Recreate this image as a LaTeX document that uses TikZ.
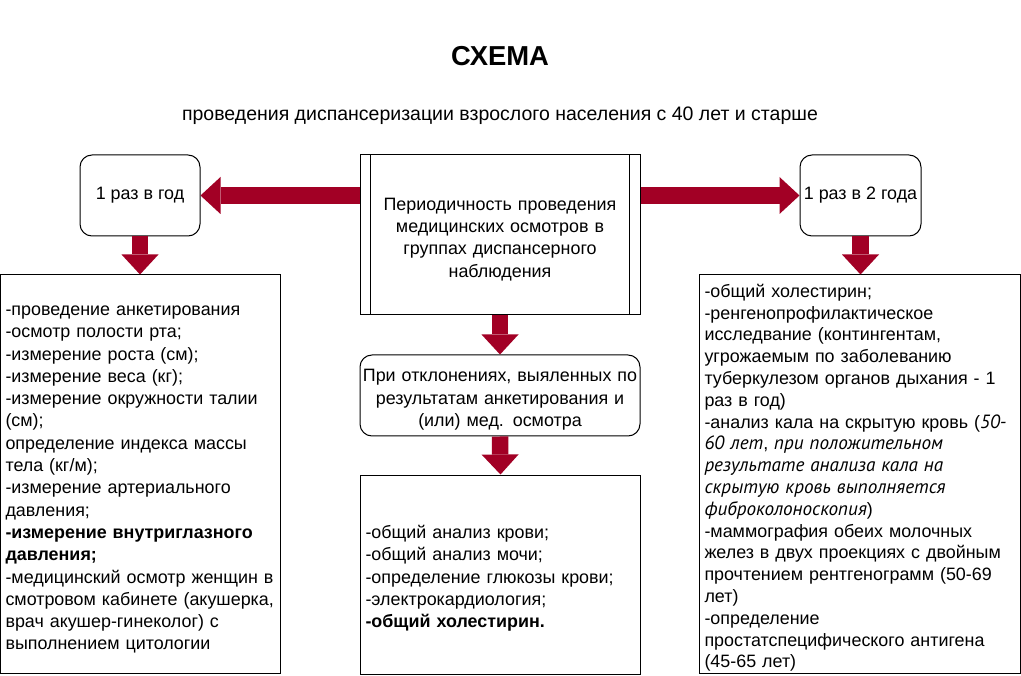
\documentclass[tikz,border=0pt]{standalone}
\usepackage{fontspec}
\setmainfont{Liberation Sans}
\newfontfamily\cursfont[Scale=1.07]{PT Sans}
\usetikzlibrary{arrows.meta}
\definecolor{arrowred}{HTML}{A20025}
\newcommand{\cit}[1]{{\cursfont\itshape #1}}
\newcommand{\tp}{\rule{0pt}{21pt}}
\tikzset{
  basefont/.style={font=\fontsize{17.9}{22.3}\selectfont},
  plainbox/.style={draw=black, line width=1pt, fill=white, basefont, inner xsep=5pt, inner ysep=0pt},
  roundbox/.style={plainbox, rounded corners=12pt},
  bigarrow/.style={draw=arrowred, line width=16.5pt,
    -{Triangle[length=20pt,width=37pt,line width=0pt,fill=arrowred]}},
}
\begin{document}
\begin{tikzpicture}[x=1pt,y=-1pt]
\useasboundingbox (0,0) rectangle (1021,676);
\fill[white] (0,0) rectangle (1021,676);

\node[font=\bfseries\fontsize{27.4}{30}\selectfont] (title) at (500,56) {СХЕМА};
\node[font=\fontsize{19.5}{23}\selectfont] (sub) at (500,116) {проведения диспансеризации взрослого населения с 40 лет и старше};

% top row
\node[roundbox, minimum width=120pt, minimum height=81pt, align=center] (Y1) at (140,195.5) {\raisebox{-2pt}{1 раз в год}};
\node[roundbox, minimum width=121pt, minimum height=81pt, inner xsep=0pt, align=center] (Y2) at (860.5,195.5) {\raisebox{-2pt}{1 раз в 2 года}};
\node[plainbox, inner xsep=0pt, text width=280pt, minimum height=160pt, align=center] (C) at (500,235)
 {\tp Периодичность проведения\\медицинских осмотров в\\группах диспансерного\\наблюдения};
\draw[line width=1pt] ([xshift=11pt]C.north west) -- ([xshift=11pt]C.south west);
\draw[line width=1pt] ([xshift=-11pt]C.north east) -- ([xshift=-11pt]C.south east);

% middle
\node[roundbox, inner xsep=0pt, text width=280pt, minimum height=81pt, align=center] (M) at (500,395.5)
 {\tp При отклонениях, выяленных по\\результатам анкетирования и\\(или) мед. осмотра};

% bottom boxes
\node[plainbox, text width=270pt, minimum height=398pt, align=left] (L) at (140.5,474)
 {\tp -проведение анкетирования\\
 -осмотр полости рта;\\
 -измерение роста (см);\\
 -измерение веса (кг);\\
 -измерение окружности талии\\
 (см);\\
 определение индекса массы\\
 тела (кг/м);\\
 -измерение артериального\\
 давления;\\
 \textbf{-измерение внутриглазного}\\
 \textbf{давления;}\\
 -медицинский осмотр женщин в\\
 смотровом кабинете (акушерка,\\
 врач акушер-гинеколог) с\\
 выполнением цитологии};

\node[plainbox, text width=270pt, minimum height=199pt, align=left] (B) at (500.5,574.5)
 {\tp -общий анализ крови;\\
 -общий анализ мочи;\\
 -определение глюкозы крови;\\
 -электрокардиология;\\
 \textbf{-общий холестирин.}};

\node[plainbox, text width=311pt, minimum height=398pt, align=left,
      font=\fontsize{17.9}{21.8}\selectfont] (R) at (860,474)
 {\tp -общий холестирин;\\
 -ренгенопрофилактическое\\
 исследвание (контингентам,\\
 угрожаемым по заболеванию\\
 туберкулезом органов дыхания - 1\\
 раз в год)\\
 -анализ кала на скрытую кровь (\cit{50-}\\
 \cit{60 лет}, \cit{при положительном}\\
 \cit{результате анализа кала на}\\
 \cit{скрытую кровь выполняется}\\
 \cit{фиброколоноскопия})\\
 -маммография обеих молочных\\
 желез в двух проекциях с двойным\\
 прочтением рентгенограмм (50-69\\
 лет)\\
 -определение\\
 простатспецифического антигена\\
 (45-65 лет)};

% arrows
\draw[bigarrow] (C.west |- Y1.east) -- (Y1.east);
\draw[bigarrow] (C.east |- Y2.west) -- (Y2.west);
\draw[bigarrow] (Y1.south) -- (Y1.south |- L.north);
\draw[bigarrow] (Y2.south) -- (Y2.south |- R.north);
\draw[bigarrow] (C.south) -- (M.north);
\draw[bigarrow] (M.south) -- (B.north);
\end{tikzpicture}
\end{document}
